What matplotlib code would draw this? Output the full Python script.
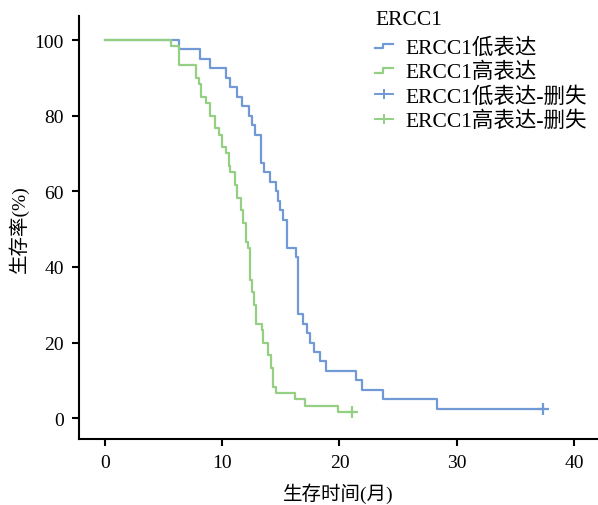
import numpy as np
import matplotlib
matplotlib.use("Agg")
import matplotlib.pyplot as plt
from matplotlib.lines import Line2D
from matplotlib.legend_handler import HandlerBase

plt.rcParams["font.family"] = ["Liberation Serif", "Noto Sans CJK SC"]

# death times (months)
low_deaths = [6.3, 8.1, 9.0, 10.3, 10.7, 11.3, 11.7, 12.3, 12.5, 12.8,
              13.3, 13.3, 13.3, 13.6, 14.1, 14.6, 14.75, 14.9, 15.2,
              15.5, 15.5, 15.5, 16.3, 16.5, 16.5, 16.5, 16.5, 16.5, 16.5,
              16.9, 17.2, 17.5, 17.8, 18.3, 18.85, 21.4, 21.9, 23.7, 28.3]
low_censored = [37.4]

high_deaths = [5.6, 6.3, 6.3, 6.3, 7.8, 7.8, 8.0, 8.2, 8.2, 8.6,
               8.95, 8.95, 9.4, 9.4, 9.7, 10.0, 10.0, 10.3, 10.6, 10.6,
               10.7, 11.1, 11.1, 11.3, 11.3, 11.6, 11.6, 11.8, 11.8,
               12.0, 12.0, 12.0, 12.2, 12.4, 12.4, 12.4, 12.4, 12.4,
               12.5, 12.5, 12.7, 12.7, 12.9, 12.9, 12.9, 13.4, 13.5, 13.5,
               13.9, 13.9, 14.2, 14.2, 14.35, 14.35, 14.35, 14.6, 16.2,
               17.1, 19.9]
high_censored = [21.1]

labels = ["ERCC1低表达", "ERCC1高表达", "ERCC1低表达-删失", "ERCC1高表达-删失"]
legend_title = "ERCC1"
colors = ["#7199d6", "#94cf84"]


def km_curve(deaths, censored):
    deaths = np.asarray(deaths, dtype=float)
    censored = np.asarray(censored, dtype=float)
    n = len(deaths) + len(censored)
    times = np.unique(deaths)
    t, s = [0.0], [100.0]
    surv = 1.0
    for tt in times:
        at_risk = n - np.sum(deaths < tt) - np.sum(censored < tt)
        d = np.sum(deaths == tt)
        surv *= 1 - d / at_risk
        t.append(tt)
        s.append(surv * 100)
    cens_s = []
    for c in censored:
        idx = np.searchsorted(t, c, side="right") - 1
        cens_s.append(s[idx])
    t.append(censored.max())
    s.append(s[-1])
    return np.array(t), np.array(s), censored, np.array(cens_s)


class StepHandler(HandlerBase):
    # legend key drawn as a small step, like the KM curve
    def create_artists(self, legend, orig_handle, xdescent, ydescent,
                       width, height, fontsize, trans):
        x0 = -xdescent
        y0 = -ydescent
        xs = [x0, x0 + width * 0.45, x0 + width * 0.45, x0 + width]
        ys = [y0 + height * 0.3, y0 + height * 0.3, y0 + height * 0.6, y0 + height * 0.6]
        line = Line2D(xs, ys, color=orig_handle.get_color(),
                      lw=orig_handle.get_linewidth(), transform=trans)
        return [line]


fig = plt.figure(figsize=(5.98, 5.06), dpi=100)
ax = fig.add_axes([0.132, 0.13, 0.868, 0.836])

handles = []
cens_handles = []
for (deaths, cens), col in zip([(low_deaths, low_censored), (high_deaths, high_censored)], colors):
    t, s, ct, cs = km_curve(deaths, cens)
    ln, = ax.step(t, s, where="post", color=col, lw=1.6)
    handles.append(ln)
    ax.plot(ct, cs, "+", color=col, ms=8, mew=1.6)
    cens_handles.append(Line2D([], [], color=col, lw=1.4, marker="+", ms=7, mew=1.4))

ax.set_xlim(-2.22, 42.05)
ax.set_ylim(-5.56, 106.3)
ax.set_xticks([0, 10, 20, 30, 40])
ax.set_yticks([0, 20, 40, 60, 80, 100])
for side in ["top", "right"]:
    ax.spines[side].set_visible(False)
for side in ["left", "bottom"]:
    ax.spines[side].set_linewidth(1.5)
ax.tick_params(direction="out", length=5, width=1.5, labelsize=14, pad=6)
ax.set_xlabel("生存时间(月)", fontsize=14, labelpad=8)
ax.set_ylabel("生存率(%)", fontsize=14, labelpad=4)

leg = ax.legend(handles + cens_handles, labels, title=legend_title,
                handler_map={handles[0]: StepHandler(), handles[1]: StepHandler()},
                loc="upper left", bbox_to_anchor=(0.554, 1.035), frameon=False,
                fontsize=15.5, title_fontsize=15.5, handlelength=0.84,
                handletextpad=0.56, labelspacing=0.19, borderaxespad=0)
leg._legend_box.align = "left"
leg._legend_box.sep = 6

fig.savefig("out.png", dpi=100)
